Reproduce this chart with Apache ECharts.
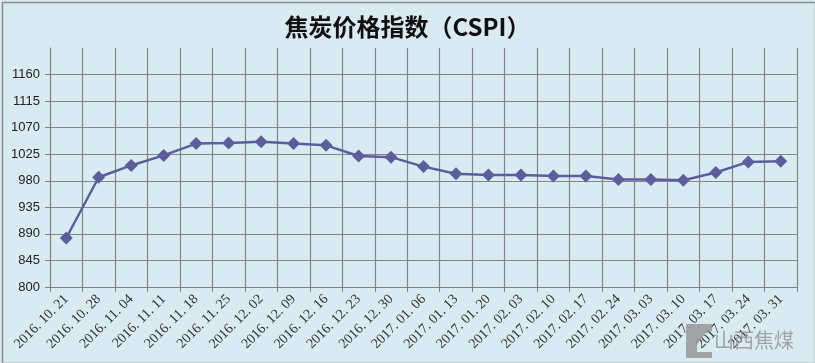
<!DOCTYPE html>
<html>
<head>
<meta charset="utf-8">
<script src="https://cdn.jsdelivr.net/npm/echarts@6/dist/echarts.min.js"></script>
<style>
html,body{margin:0;padding:0;background:#fff;}
#c{width:815px;height:363px;}
</style>
</head>
<body>
<div id="c"></div>
<script>
var titleText = '焦炭价格指数（CSPI）';
var categories = ['2016.10.21','2016.10.28','2016.11.04','2016.11.11','2016.11.18','2016.11.25','2016.12.02','2016.12.09','2016.12.16','2016.12.23','2016.12.30','2017.01.06','2017.01.13','2017.01.20','2017.02.03','2017.02.10','2017.02.17','2017.02.24','2017.03.03','2017.03.10','2017.03.17','2017.03.24','2017.03.31'];
var cspiValues = [883, 986, 1006, 1023, 1043, 1044, 1046, 1043, 1040, 1022, 1020, 1004, 992, 990, 990, 988, 988, 982, 982, 981, 994, 1012, 1013];
var yMin = 800, yMax = 1205, yStep = 45;

var chart = echarts.init(document.getElementById('c'), null, {renderer:'canvas'});
chart.setOption({
  backgroundColor: '#d9eaf3',
  animation: false,
  title: {
    text: titleText, left: 'center', top: 10,
    textStyle: {fontFamily: '"Noto Sans CJK SC"', fontWeight: 'bold', fontSize: 24, color: '#111'}
  },
  grid: {left: 50, right: 18, top: 48, bottom: 76, containLabel: false},
  xAxis: {
    type: 'category', data: categories, boundaryGap: true,
    axisLine: {show: true, lineStyle: {color: '#808080', width: 1}},
    axisTick: {show: true, length: 5, lineStyle: {color: '#808080'}},
    splitLine: {show: true, lineStyle: {color: '#858585', width: 1.2}},
    axisLabel: {rotate: 45, interval: 0, margin: 10, fontFamily: '"Liberation Serif"', fontSize: 14, color: '#333',
      formatter: function (v) { return v.replace(/\./g, '. '); }}
  },
  yAxis: {
    type: 'value', min: yMin, max: yMax, interval: yStep,
    axisLine: {show: true, lineStyle: {color: '#808080', width: 1}},
    axisTick: {show: true, length: 5, lineStyle: {color: '#808080'}},
    splitLine: {show: true, showMaxLine: false, lineStyle: {color: '#858585', width: 1.2}},
    axisLabel: {showMaxLabel: false, margin: 10, fontFamily: '"Liberation Sans"', fontSize: 13, color: '#222',
      formatter: function (v) { return String(v); }}
  },
  series: [{
    type: 'line', data: cspiValues,
    symbol: 'diamond', symbolSize: 13,
    lineStyle: {color: '#5c5e9c', width: 2.5},
    itemStyle: {color: '#5c5e9c'}
  }],
  graphic: [
    {type: 'rect', left: 0, top: 0, shape: {width: 813, height: 361}, style: {fill: 'none', stroke: '#8c8c8c', lineWidth: 1.5}, z: 100},
    {type: 'polygon', shape: {points: [[686,324],[712,324],[712,331],[704,334],[697,345],[697,352],[712,352],[712,358],[686,358]]}, style: {fill: 'rgba(150,150,150,0.85)'}, z: 50},
    {type: 'text', left: 714, top: 330, style: {text: '山西焦煤', font: '20px "Noto Sans CJK SC"', fill: 'rgba(150,150,150,0.85)'}, z: 50}
  ]
});
</script>
</body>
</html>
